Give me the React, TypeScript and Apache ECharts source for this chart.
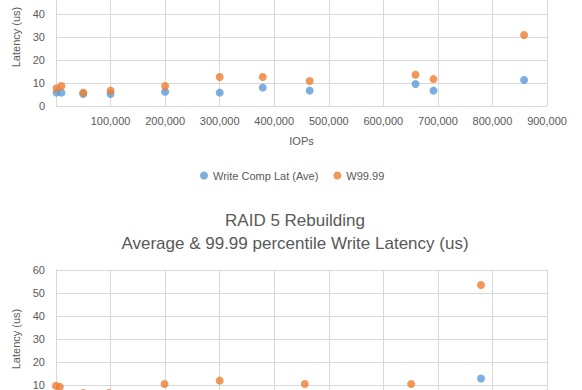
import React, { useEffect, useRef } from "react";
import * as echarts from "echarts";

// Top chart (normal operation)
const topIops = [1000, 10000, 50000, 100000, 200000, 300000, 379000, 465000, 659000, 692000, 858000];
const topAvg = [5.8, 5.8, 5.2, 5.2, 6.2, 5.8, 8.0, 6.7, 9.6, 6.7, 11.3];
const topP9999 = [7.7, 8.7, 5.8, 6.7, 8.7, 12.6, 12.6, 10.9, 13.6, 11.7, 30.9];

// Bottom chart (RAID 5 rebuilding)
const botIops = [0, 7000, 50000, 97000, 199000, 300000, 456000, 651000, 779000];
const botAvg = [5.0, 5.2, 4.5, 4.5, 5.0, 5.2, 6.0, 6.0, 12.8];
const botP9999 = [9.7, 9.2, 6.5, 6.5, 10.4, 11.9, 10.4, 10.4, 53.5];

const xTicks = { min: 0, max: 900000, interval: 100000 };
const yTicks = { min: 0, max: 60, interval: 10 };

const seriesNames = ["Write Comp Lat (Ave)", "W99.99"];
const bottomTitle = ["RAID 5 Rebuilding", "Average & 99.99 percentile Write Latency (us)"];

const BLUE = "#5B9BD5";
const ORANGE = "#ED7D31";
const GRID = "#D9D9D9";
const TXT = "#595959";
const FONT = "Liberation Sans";

export default function App() {
  const ref = useRef<HTMLDivElement>(null);
  useEffect(() => {
    if (!ref.current) return;
    const chart = echarts.init(ref.current, null, { renderer: "svg" });
    const xAxisBase = (gridIndex: number) => ({
      type: "value",
      gridIndex,
      min: xTicks.min,
      max: xTicks.max,
      interval: xTicks.interval,
      name: "IOPs",
      nameLocation: "middle",
      nameGap: 29,
      nameTextStyle: { color: TXT, fontFamily: FONT, fontSize: 11 },
      axisLine: { show: true, lineStyle: { color: GRID } },
      axisTick: { show: false },
      axisLabel: {
        color: TXT,
        fontFamily: FONT,
        fontSize: 11,
        margin: 9,
        showMinLabel: false,
        formatter: (v: number) => v.toLocaleString("en-US"),
      },
      splitLine: { show: true, lineStyle: { color: GRID } },
    });
    const yAxisBase = (gridIndex: number) => ({
      type: "value",
      gridIndex,
      min: yTicks.min,
      max: yTicks.max,
      interval: yTicks.interval,
      name: "Latency (us)",
      nameLocation: "middle",
      nameGap: 28,
      nameTextStyle: { color: TXT, fontFamily: FONT, fontSize: 11 },
      axisLine: { show: true, lineStyle: { color: GRID } },
      axisTick: { show: false },
      axisLabel: { color: TXT, fontFamily: FONT, fontSize: 11, margin: 11 },
      splitLine: { show: true, lineStyle: { color: GRID } },
    });
    const mk = (name: string, xs: number[], ys: number[], color: string, idx: number) => ({
      type: "scatter",
      name,
      xAxisIndex: idx,
      yAxisIndex: idx,
      symbol: "circle",
      symbolSize: 8,
      itemStyle: { color },
      data: xs.map((x, i) => [x, ys[i]]),
    });
    const titleStyle = { color: TXT, fontFamily: FONT, fontSize: 17, fontWeight: "normal" };
    chart.setOption({
      animation: false,
      backgroundColor: "#fff",
      textStyle: { fontFamily: FONT },
      grid: [
        { left: 56, top: 8, width: 491, height: 138, outerBoundsMode: "none", containLabel: false },
        { left: 56, top: 310, width: 491, height: 138, outerBoundsMode: "none", containLabel: false },
      ],
      xAxis: [xAxisBase(0), xAxisBase(1)],
      yAxis: [yAxisBase(0), yAxisBase(1)],
      legend: {
        left: 195,
        top: 205,
        data: seriesNames,
        icon: "circle",
        itemWidth: 8,
        itemHeight: 8,
        itemGap: 15,
        textStyle: { color: TXT, fontFamily: FONT, fontSize: 11 },
      },
      title: [
        { text: bottomTitle[0], left: 290, textAlign: "center", top: 247, textStyle: titleStyle },
        { text: bottomTitle[1], left: 290, textAlign: "center", top: 270, textStyle: titleStyle },
      ],
      series: [
        mk(seriesNames[0], topIops, topAvg, BLUE, 0),
        mk(seriesNames[1], topIops, topP9999, ORANGE, 0),
        mk(seriesNames[0], botIops, botAvg, BLUE, 1),
        mk(seriesNames[1], botIops, botP9999, ORANGE, 1),
      ],
    });
    return () => chart.dispose();
  }, []);
  return (
    <div style={{ position: "absolute", left: 0, top: -40, width: 582, height: 520, overflow: "hidden" }}>
      <div ref={ref} style={{ width: 582, height: 520 }} />
    </div>
  );
}
